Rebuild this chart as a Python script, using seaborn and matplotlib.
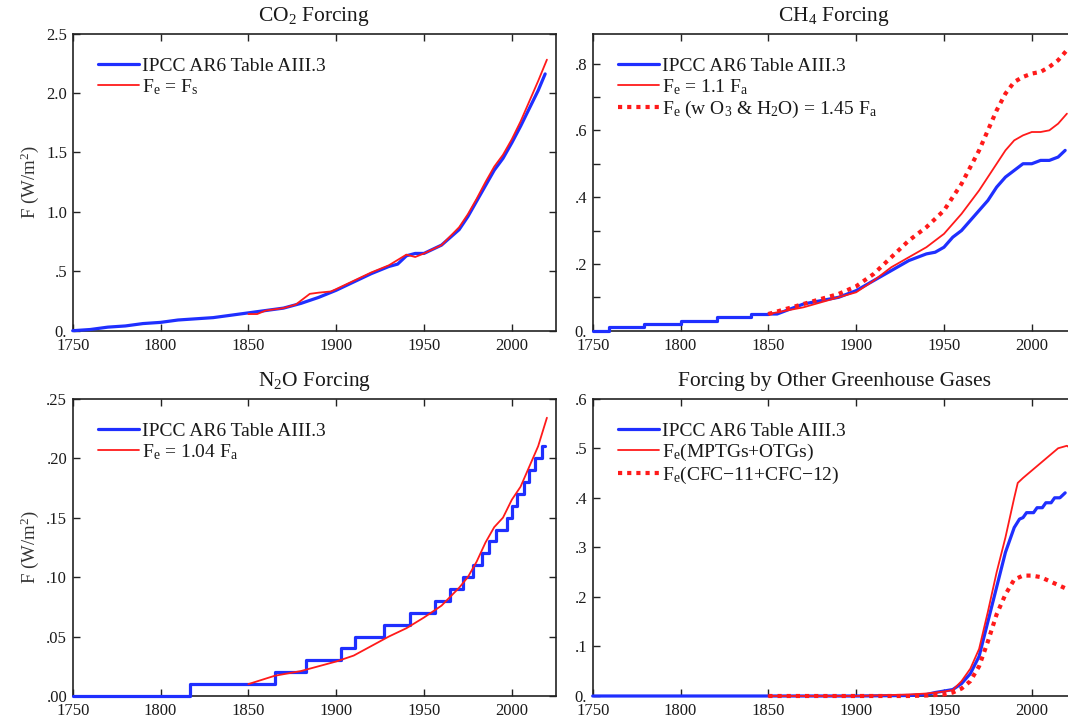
import matplotlib
matplotlib.use("Agg")
import matplotlib.pyplot as plt
import seaborn as sns

# ---------------- data ----------------
X_TICKS = [1750, 1800, 1850, 1900, 1950, 2000]
X_TICK_LABELS = ["1750", "1800", "1850", "1900", "1950", "2000"]

# CO2
co2_ipcc_years = [1750, 1760, 1770, 1780, 1790, 1800, 1810, 1820, 1830, 1840, 1850, 1860, 1870,
                  1880, 1890, 1900, 1910, 1920, 1930, 1935, 1940, 1945, 1950, 1960, 1970, 1975,
                  1980, 1985, 1990, 1995, 2000, 2005, 2010, 2015, 2019]
co2_ipcc_vals = [0.00, 0.01, 0.03, 0.04, 0.06, 0.07, 0.09, 0.10, 0.11, 0.13, 0.15, 0.17, 0.19,
                 0.23, 0.28, 0.34, 0.41, 0.48, 0.54, 0.56, 0.63, 0.65, 0.65, 0.72, 0.85, 0.96,
                 1.09, 1.22, 1.35, 1.45, 1.58, 1.72, 1.87, 2.02, 2.16]
co2_fe_years = [1850, 1855, 1860, 1870, 1877, 1885, 1890, 1897, 1900, 1910, 1920, 1930, 1940,
                1945, 1950, 1960, 1970, 1975, 1980, 1985, 1990, 1995, 2000, 2005, 2010, 2015, 2020]
co2_fe_vals = [0.14, 0.14, 0.17, 0.19, 0.22, 0.31, 0.32, 0.33, 0.35, 0.42, 0.49, 0.55, 0.64,
               0.62, 0.65, 0.72, 0.87, 0.98, 1.11, 1.25, 1.38, 1.48, 1.61, 1.76, 1.93, 2.10, 2.28]
CO2_YTICKS = [0.0, 0.5, 1.0, 1.5, 2.0, 2.5]
CO2_YLABELS = ["0.", ".5", "1.0", "1.5", "2.0", "2.5"]

# CH4 (IPCC series: stepped early part, smooth later part)
ch4_ipcc_early_years = [1750, 1759, 1779, 1800, 1821, 1840, 1850]
ch4_ipcc_early_vals = [0.00, 0.01, 0.02, 0.03, 0.04, 0.05, 0.05]
ch4_ipcc_years = [1850, 1855, 1860, 1870, 1880, 1890, 1900, 1910, 1920, 1930, 1935, 1940, 1945,
                  1950, 1955, 1960, 1965, 1970, 1975, 1980, 1985, 1990, 1995, 2000, 2005, 2010,
                  2015, 2019]
ch4_ipcc_vals = [0.05, 0.05, 0.06, 0.08, 0.09, 0.10, 0.12, 0.15, 0.18, 0.21, 0.22, 0.23, 0.235,
                 0.25, 0.28, 0.30, 0.33, 0.36, 0.39, 0.43, 0.46, 0.48, 0.50, 0.50, 0.51, 0.51,
                 0.52, 0.54]
ch4_fe_years = [1850, 1860, 1870, 1880, 1890, 1900, 1910, 1920, 1930, 1940, 1950, 1960, 1970,
                1980, 1985, 1990, 1995, 2000, 2005, 2010, 2015, 2020]
ch4_fe_vals = [0.05, 0.06, 0.07, 0.085, 0.10, 0.115, 0.15, 0.19, 0.22, 0.25, 0.29, 0.35, 0.42,
               0.50, 0.54, 0.57, 0.585, 0.595, 0.595, 0.60, 0.62, 0.65]
ch4_fe145_years = [1850, 1860, 1870, 1880, 1890, 1900, 1910, 1920, 1930, 1940, 1950, 1960, 1970,
                   1975, 1980, 1985, 1990, 1995, 2000, 2005, 2010, 2015, 2020]
ch4_fe145_vals = [0.05, 0.065, 0.08, 0.095, 0.11, 0.133, 0.17, 0.22, 0.27, 0.31, 0.36, 0.44, 0.54,
                  0.60, 0.66, 0.71, 0.745, 0.76, 0.77, 0.775, 0.79, 0.81, 0.84]
CH4_YTICKS = [0.0, 0.1, 0.2, 0.3, 0.4, 0.5, 0.6, 0.7, 0.8]
CH4_YLABELS = ["0.", "", ".2", "", ".4", "", ".6", "", ".8"]

# N2O
n2o_ipcc_years = [1750, 1817, 1865, 1883, 1903, 1911, 1927, 1942, 1956, 1965, 1972, 1978, 1983,
                  1987, 1991, 1997, 2000, 2003, 2007, 2010, 2013, 2017, 2019]
n2o_ipcc_vals = [0.00, 0.01, 0.02, 0.03, 0.04, 0.05, 0.06, 0.07, 0.08, 0.09, 0.10, 0.11, 0.12,
                 0.13, 0.14, 0.15, 0.16, 0.17, 0.18, 0.19, 0.20, 0.21, 0.21]
n2o_fe_years = [1850, 1865, 1880, 1890, 1900, 1910, 1920, 1930, 1940, 1950, 1960, 1970, 1975,
                1980, 1985, 1990, 1995, 2000, 2005, 2010, 2015, 2020]
n2o_fe_vals = [0.010, 0.017, 0.021, 0.025, 0.029, 0.034, 0.042, 0.050, 0.057, 0.066, 0.076,
               0.091, 0.100, 0.113, 0.129, 0.142, 0.150, 0.165, 0.176, 0.193, 0.210, 0.234]
N2O_YTICKS = [0.0, 0.05, 0.10, 0.15, 0.20, 0.25]
N2O_YLABELS = [".00", ".05", ".10", ".15", ".20", ".25"]

# Other GHGs
oth_ipcc_years = [1750, 1900, 1930, 1940, 1945, 1950, 1955, 1960, 1965, 1970, 1975, 1980, 1985,
                  1990, 1993, 1995, 1997, 2001, 2003, 2006, 2008, 2011, 2013, 2016, 2019]
oth_ipcc_vals = [0.0, 0.0, 0.001, 0.003, 0.007, 0.010, 0.013, 0.025, 0.045, 0.080, 0.150, 0.220,
                 0.290, 0.340, 0.357, 0.360, 0.370, 0.370, 0.380, 0.380, 0.390, 0.390, 0.400,
                 0.400, 0.410]
oth_fe_years = [1850, 1900, 1910, 1930, 1940, 1950, 1955, 1960, 1965, 1970, 1975, 1980, 1985,
                1990, 1992, 1995, 2000, 2005, 2010, 2015, 2020, 2022]
oth_fe_vals = [0.0, 0.0, 0.001, 0.003, 0.005, 0.009, 0.012, 0.030, 0.055, 0.095, 0.170, 0.250,
               0.320, 0.400, 0.430, 0.440, 0.455, 0.470, 0.485, 0.500, 0.505, 0.500]
oth_cfc_years = [1850, 1930, 1940, 1950, 1955, 1960, 1965, 1970, 1975, 1980, 1985, 1990, 1995,
                 2000, 2005, 2010, 2015, 2020]
oth_cfc_vals = [0.0, 0.0, 0.001, 0.003, 0.007, 0.015, 0.030, 0.060, 0.110, 0.165, 0.205, 0.235,
                0.243, 0.243, 0.240, 0.232, 0.224, 0.216]
OTH_YTICKS = [0.0, 0.1, 0.2, 0.3, 0.4, 0.5, 0.6]
OTH_YLABELS = ["0.", ".1", ".2", ".3", ".4", ".5", ".6"]

# ---------------- style ----------------
sns.set_theme(style="ticks")
plt.rcParams["font.family"] = ["Liberation Serif", "DejaVu Serif"]
plt.rcParams["mathtext.fontset"] = "custom"
plt.rcParams["mathtext.rm"] = "Liberation Serif"
plt.rcParams["mathtext.it"] = "Liberation Serif:italic"

BLUE = "#1f2fff"
RED = "#ff1a1a"
DOT = (0, (1.0, 1.2))
TICK_FS = 12
LEG_FS = 14
TITLE_FS = 15.5
LW_B, LW_R, LW_D = 2.3, 1.3, 3.0

W, H = 1068, 724
fig = plt.figure(figsize=(W / 100, H / 100), dpi=100)


def box(l, r, t, b):
    return [l / W, (H - b) / H, (r - l) / W, (b - t) / H]


ax_co2 = fig.add_axes(box(72.7, 555.7, 33.5, 330.7))
ax_ch4 = fig.add_axes(box(592.7, 1075.7, 33.5, 330.7))
ax_n2o = fig.add_axes(box(72.7, 555.7, 398.7, 696.0))
ax_oth = fig.add_axes(box(592.7, 1075.7, 398.7, 696.0))

lab_ipcc = "IPCC AR6 Table AIII.3"
KW = dict(zorder=3, clip_on=False)

# CO2
sns.lineplot(x=co2_ipcc_years, y=co2_ipcc_vals, ax=ax_co2, color=BLUE, lw=LW_B, label=lab_ipcc, **KW)
sns.lineplot(x=co2_fe_years, y=co2_fe_vals, ax=ax_co2, color=RED, lw=LW_R,
             label=r"F$_{\mathrm{e}}$ = F$_{\mathrm{s}}$", **KW)
# CH4
sns.lineplot(x=ch4_ipcc_early_years, y=ch4_ipcc_early_vals, ax=ax_ch4, color=BLUE, lw=LW_B,
             label=lab_ipcc, drawstyle="steps-post", **KW)
sns.lineplot(x=ch4_ipcc_years, y=ch4_ipcc_vals, ax=ax_ch4, color=BLUE, lw=LW_B, **KW)
sns.lineplot(x=ch4_fe_years, y=ch4_fe_vals, ax=ax_ch4, color=RED, lw=LW_R,
             label=r"F$_{\mathrm{e}}$ = 1.1 F$_{\mathrm{a}}$", **KW)
sns.lineplot(x=ch4_fe145_years, y=ch4_fe145_vals, ax=ax_ch4, color=RED, lw=LW_D, linestyle=DOT,
             label=r"F$_{\mathrm{e}}$ (w O$_3$ & H$_2$O) = 1.45 F$_{\mathrm{a}}$", **KW)
# N2O
sns.lineplot(x=n2o_ipcc_years, y=n2o_ipcc_vals, ax=ax_n2o, color=BLUE, lw=LW_B, label=lab_ipcc,
             drawstyle="steps-post", **KW)
sns.lineplot(x=n2o_fe_years, y=n2o_fe_vals, ax=ax_n2o, color=RED, lw=LW_R,
             label=r"F$_{\mathrm{e}}$ = 1.04 F$_{\mathrm{a}}$", **KW)
# Other
sns.lineplot(x=oth_ipcc_years, y=oth_ipcc_vals, ax=ax_oth, color=BLUE, lw=LW_B, label=lab_ipcc, **KW)
sns.lineplot(x=oth_fe_years, y=oth_fe_vals, ax=ax_oth, color=RED, lw=LW_R,
             label=r"F$_{\mathrm{e}}$(MPTGs+OTGs)", **KW)
sns.lineplot(x=oth_cfc_years, y=oth_cfc_vals, ax=ax_oth, color=RED, lw=LW_D, linestyle=DOT,
             label=r"F$_{\mathrm{e}}$(CFC−11+CFC−12)", **KW)

panels = [
    (ax_co2, r"CO$_2$ Forcing", (0, 2.5), CO2_YTICKS, CO2_YLABELS, True),
    (ax_ch4, r"CH$_4$ Forcing", (0, 0.89), CH4_YTICKS, CH4_YLABELS, False),
    (ax_n2o, r"N$_2$O Forcing", (0, 0.25), N2O_YTICKS, N2O_YLABELS, True),
    (ax_oth, "Forcing by Other Greenhouse Gases", (0, 0.6), OTH_YTICKS, OTH_YLABELS, False),
]

for ax, title, ylim, yt, yl, has_ylabel in panels:
    ax.set_xlim(1750, 2025)
    ax.set_ylim(*ylim)
    ax.set_xticks(X_TICKS)
    ax.set_xticklabels(X_TICK_LABELS)
    ax.set_yticks(yt)
    ax.set_yticklabels(yl)
    ax.tick_params(direction="in", top=True, right=True, length=5, width=1.0,
                   labelsize=TICK_FS, colors="#222222", labelcolor="#1a1a1a")
    ax.tick_params(axis="x", pad=5)
    ax.tick_params(axis="y", pad=4)
    for sp in ax.spines.values():
        sp.set_visible(True)
        sp.set_linewidth(1.2)
        sp.set_color("#222222")
    ax.set_title(title, fontsize=TITLE_FS, pad=9, color="#1a1a1a")
    ax.set_xlabel("")
    if has_ylabel:
        ax.set_ylabel(r"F (W/m$^2$)", fontsize=13.5, color="#333333", labelpad=4)
    else:
        ax.set_ylabel("")
    leg = ax.legend(loc="upper left", bbox_to_anchor=(0.052, 0.92), frameon=False,
                    fontsize=LEG_FS, handlelength=2.1, handletextpad=0.15,
                    labelspacing=0.1, borderpad=0, borderaxespad=0)
    for t in leg.get_texts():
        t.set_color("#1a1a1a")

fig.savefig("out.png", dpi=100)
